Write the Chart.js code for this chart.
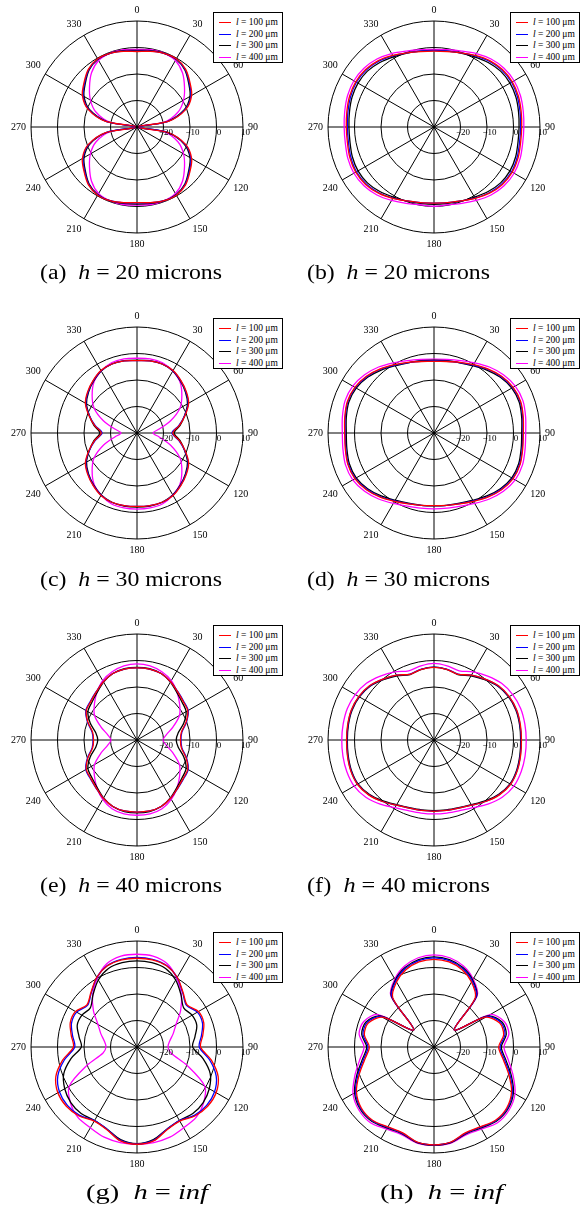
<!DOCTYPE html>
<html><head><meta charset="utf-8">
<script src="https://cdn.jsdelivr.net/npm/chart.js@4"></script>
<style>
html,body{margin:0;padding:0;background:#fff;}
#page{position:relative;width:580px;height:1218px;overflow:hidden;background:#fff;}
canvas.pc{position:absolute;}
.leg{position:absolute;width:68px;height:49px;border:1.4px solid #000;background:#fff;font-family:'Liberation Serif',serif;font-size:9.5px;color:#000;}
.leg .row{position:absolute;left:0;width:68px;height:12px;}
.leg .ln{position:absolute;left:5px;top:6px;width:12px;height:0;border-top-width:1.5px;border-top-style:solid;}
.leg .tx{position:absolute;left:22px;top:0;line-height:12px;white-space:nowrap;}
.cap{position:absolute;font-family:'Liberation Serif',serif;font-size:20px;line-height:20px;white-space:nowrap;transform-origin:0 50%;color:#000;}
</style></head><body><div id="page"></div>
<script>
// ---- angular categories (degrees, clockwise from top) ----
const angles = [0,10,20,30,40,50,60,70,80,90,100,110,120,130,140,150,160,170,180,190,200,210,220,230,240,250,260,270,280,290,300,310,320,330,340,350];
const tickValues = [-20,-10,0,10];
const tickLabels = ['\u221220','\u221210','0','10'];
const seriesNames = ['100','200','300','400'];
const seriesColors = ['#ff0000','#0000ff','#000000','#ff00ff'];

// ---- (a) h = 20 microns ----
const A_red  = [-1.5,-1.0,-0.4,-0.3,-1.5,-3.9,-6.2,-10.3,-18,-30,-18,-10.3,-6.2,-3.9,-1.5,-0.3,-0.4,-1.0,-1.5,-1.0,-0.4,-0.3,-1.5,-3.9,-6.2,-10.3,-18,-30,-18,-10.3,-6.2,-3.9,-1.5,-0.3,-0.4,-1.0];
const A_blue = [-1.4,-0.9,-0.4,-0.4,-1.7,-4.2,-6.5,-10.6,-18.3,-30,-18.3,-10.6,-6.5,-4.2,-1.7,-0.4,-0.4,-0.9,-1.4,-0.9,-0.4,-0.4,-1.7,-4.2,-6.5,-10.6,-18.3,-30,-18.3,-10.6,-6.5,-4.2,-1.7,-0.4,-0.4,-0.9];
const A_black= [-1.1,-0.7,-0.3,-0.5,-1.9,-4.5,-6.9,-11.0,-18.6,-30,-18.6,-11.0,-6.9,-4.5,-1.9,-0.5,-0.3,-0.7,-0.9,-0.7,-0.3,-0.5,-1.9,-4.5,-6.9,-11.0,-18.6,-30,-18.6,-11.0,-6.9,-4.5,-1.9,-0.5,-0.3,-0.7];
const A_mag  = [-0.7,-0.4,-0.3,-1.0,-3.3,-6.6,-9.7,-13.5,-19.5,-30,-19.5,-13.5,-9.7,-6.6,-3.3,-1.0,-0.3,-0.3,-0.5,-0.3,-0.3,-1.0,-3.3,-6.6,-9.7,-13.5,-19.5,-30,-19.5,-13.5,-9.7,-6.6,-3.3,-1.0,-0.3,-0.4];

// ---- (b) h = 20 microns ----
const B_red  = [-1.4,-1.1,-0.2,1.2,2.7,3.7,4.1,3.9,3.4,3.1,3.2,3.8,4.1,3.7,2.6,1.1,-0.3,-1.0,-1.3,-1.0,-0.3,1.1,2.6,3.7,4.1,3.8,3.2,3.1,3.4,3.9,4.1,3.7,2.7,1.2,-0.2,-1.1];
const B_blue = [-1.2,-0.9,-0.2,1.0,2.4,3.4,3.8,3.5,3.0,2.7,2.8,3.4,3.8,3.4,2.4,1.0,-0.3,-1.0,-1.3,-1.0,-0.3,1.0,2.4,3.4,3.8,3.4,2.8,2.7,3.0,3.5,3.8,3.4,2.4,1.0,-0.2,-0.9];
const B_black= [-1.1,-0.9,-0.3,0.6,1.8,2.8,3.1,2.9,2.4,2.1,2.2,2.8,3.1,2.8,1.8,0.6,-0.2,-0.7,-0.8,-0.7,-0.2,0.6,1.8,2.8,3.1,2.8,2.2,2.1,2.4,2.9,3.1,2.8,1.8,0.6,-0.3,-0.9];
const B_mag  = [-0.7,-0.4,0.5,2.0,3.5,4.5,4.9,4.7,4.2,3.9,4.0,4.6,4.9,4.5,3.5,2.0,0.7,-0.2,-0.1,-0.2,0.7,2.0,3.5,4.5,4.9,4.6,4.0,3.9,4.2,4.7,4.9,4.5,3.5,2.0,0.5,-0.4];

// ---- (c) h = 30 microns ----
const C_red  = [-2.7,-2.4,-2.3,-2.8,-4.2,-5.7,-7.5,-10.7,-13.8,-16.5,-13.8,-10.7,-7.5,-5.7,-4.2,-2.8,-2.2,-2.2,-2.3,-2.2,-2.2,-2.8,-4.2,-5.7,-7.5,-10.7,-13.8,-16.5,-13.8,-10.7,-7.5,-5.7,-4.2,-2.8,-2.3,-2.4];
const C_blue = [-2.7,-2.4,-2.3,-2.9,-4.3,-5.9,-7.7,-10.9,-14.0,-16.8,-14.0,-10.9,-7.7,-5.9,-4.3,-2.9,-2.2,-2.2,-2.3,-2.2,-2.2,-2.9,-4.3,-5.9,-7.7,-10.9,-14.0,-16.8,-14.0,-10.9,-7.7,-5.9,-4.3,-2.9,-2.3,-2.4];
const C_black= [-2.5,-2.3,-2.3,-3.0,-4.5,-6.1,-8.0,-10.9,-13.5,-16.0,-13.5,-10.9,-8.0,-6.1,-4.5,-3.0,-2.2,-2.0,-2.0,-2.0,-2.2,-3.0,-4.5,-6.1,-8.0,-10.9,-13.5,-16.0,-13.5,-10.9,-8.0,-6.1,-4.5,-3.0,-2.3,-2.3];
const C_mag  = [-1.8,-1.6,-1.8,-3.0,-4.8,-7.9,-11.3,-16.5,-21.5,-24,-21.5,-16.5,-11.3,-7.9,-4.8,-3.0,-1.6,-1.3,-1.3,-1.3,-1.6,-3.0,-4.8,-7.9,-11.3,-16.5,-21.5,-24,-21.5,-16.5,-11.3,-7.9,-4.8,-3.0,-1.8,-1.6];

// ---- (d) h = 30 microns ----
const D_red  = [-3.0,-2.6,-1.6,-0.2,1.6,3.3,4.5,4.8,4.2,3.7,4.0,4.6,4.5,3.3,1.6,-0.2,-1.5,-2.3,-2.6,-2.3,-1.5,-0.2,1.6,3.3,4.5,4.6,4.0,3.7,4.2,4.8,4.5,3.3,1.6,-0.2,-1.6,-2.6];
const D_blue = [-2.8,-2.5,-1.7,-0.4,1.4,3.1,4.3,4.6,4.0,3.5,3.8,4.4,4.3,3.1,1.4,-0.4,-1.6,-2.3,-2.6,-2.3,-1.6,-0.4,1.4,3.1,4.3,4.4,3.8,3.5,4.0,4.6,4.3,3.1,1.4,-0.4,-1.7,-2.5];
const D_black= [-2.5,-2.3,-1.8,-0.7,1.0,2.7,3.9,4.2,3.6,3.1,3.4,4.0,3.9,2.7,1.0,-0.7,-1.8,-2.3,-2.5,-2.3,-1.8,-0.7,1.0,2.7,3.9,4.0,3.4,3.1,3.6,4.2,3.9,2.7,1.0,-0.7,-1.8,-2.3];
const D_mag  = [-2.1,-1.8,-0.9,0.6,2.5,4.2,5.4,5.7,5.1,4.6,4.9,5.5,5.4,4.2,2.5,0.7,-0.6,-1.2,-1.4,-1.2,-0.6,0.7,2.5,4.2,5.4,5.5,4.9,4.6,5.1,5.7,5.4,4.2,2.5,0.6,-0.9,-1.8];

// ---- (e) h = 40 microns ----
const E_red  = [-2.8,-2.8,-3.3,-4.6,-6.2,-7.3,-7.9,-10.3,-13.0,-13.6,-13.0,-10.3,-7.9,-7.3,-6.2,-4.6,-3.3,-2.8,-2.8,-2.8,-3.3,-4.6,-6.2,-7.3,-7.9,-10.3,-13.0,-13.6,-13.0,-10.3,-7.9,-7.3,-6.2,-4.6,-3.3,-2.8];
const E_blue = [-2.8,-2.8,-3.3,-4.6,-6.1,-7.1,-7.7,-10.1,-12.8,-13.4,-12.8,-10.1,-7.7,-7.1,-6.1,-4.6,-3.3,-2.8,-2.8,-2.8,-3.3,-4.6,-6.1,-7.1,-7.7,-10.1,-12.8,-13.4,-12.8,-10.1,-7.7,-7.1,-6.1,-4.6,-3.3,-2.8];
const E_black= [-2.6,-2.7,-3.3,-4.8,-6.6,-7.8,-8.6,-11.2,-14.2,-15.2,-14.2,-11.2,-8.6,-7.8,-6.6,-4.8,-3.3,-2.6,-2.5,-2.6,-3.3,-4.8,-6.6,-7.8,-8.6,-11.2,-14.2,-15.2,-14.2,-11.2,-8.6,-7.8,-6.6,-4.8,-3.3,-2.7];
const E_mag  = [-1.3,-1.6,-2.6,-4.1,-6.5,-9.0,-11.5,-15.5,-18.8,-20.2,-18.8,-15.5,-11.5,-9.0,-6.5,-4.1,-2.4,-1.7,-1.6,-1.7,-2.4,-4.1,-6.5,-9.0,-11.5,-15.5,-18.8,-20.2,-18.8,-15.5,-11.5,-9.0,-6.5,-4.1,-2.6,-1.6];

// ---- (f) h = 40 microns ----
const F_red  = [-2.6,-2.9,-3.6,-1.7,0.0,1.8,2.8,3.2,3.1,3.0,3.2,3.5,3.4,2.2,0.3,-1.6,-2.6,-3.0,-3.1,-3.0,-2.6,-1.6,0.3,2.2,3.4,3.5,3.2,3.0,3.1,3.2,2.8,1.8,0.0,-1.7,-3.6,-2.9];
const F_blue = [-2.5,-2.8,-3.5,-1.7,0.0,1.7,2.7,3.1,3.0,2.9,3.1,3.4,3.3,2.1,0.3,-1.6,-2.6,-3.0,-3.1,-3.0,-2.6,-1.6,0.3,2.1,3.3,3.4,3.1,2.9,3.0,3.1,2.7,1.7,0.0,-1.7,-3.5,-2.8];
const F_black= [-2.5,-2.9,-3.7,-2.0,-0.3,1.5,2.5,2.9,2.8,2.7,2.9,3.2,3.1,1.9,0.0,-1.8,-2.8,-3.2,-3.3,-3.2,-2.8,-1.8,0.0,1.9,3.1,3.2,2.9,2.7,2.8,2.9,2.5,1.5,-0.3,-2.0,-3.7,-2.9];
const F_mag  = [-1.1,-1.6,-2.2,-0.3,1.5,3.3,4.3,4.8,4.8,4.8,4.9,5.0,4.8,3.6,1.6,-0.5,-1.6,-2.0,-2.1,-2.0,-1.6,-0.5,1.6,3.6,4.8,5.0,4.9,4.8,4.8,4.8,4.3,3.3,1.5,-0.3,-2.2,-1.6];

// ---- (g) h = inf ----
const G_red  = [3.5,3.4,2.6,0.4,-3.0,-5.3,-3.2,-3.2,-4.8,-6.0,-1.5,2.6,4.5,4.8,4.0,2.3,3.2,6.0,6.7,6.0,3.2,2.3,4.0,4.8,4.5,2.6,-1.5,-6.0,-4.8,-3.2,-3.2,-5.3,-3.0,0.4,2.6,3.4];
const G_blue = [3.8,3.6,2.7,0.3,-3.2,-5.6,-3.7,-3.7,-5.3,-6.5,-2.2,1.8,3.8,4.3,3.7,2.1,3.0,5.8,6.6,5.8,3.0,2.1,3.7,4.3,3.8,1.8,-2.2,-6.5,-5.3,-3.7,-3.7,-5.6,-3.2,0.3,2.7,3.6];
const G_black= [2.5,2.3,1.5,-0.8,-4.2,-7.0,-6.0,-6.0,-7.8,-9.0,-4.7,-0.6,1.5,2.6,2.8,2.0,3.0,5.5,6.5,5.5,3.0,2.0,2.8,2.6,1.5,-0.6,-4.7,-9.0,-7.8,-6.0,-6.0,-7.0,-4.2,-0.8,1.5,2.3];
const G_mag  = [5.0,4.8,3.4,0.0,-4.0,-8.5,-13.0,-15.5,-17.5,-18.3,-17.0,-10.0,-0.5,2.8,4.7,5.2,6.2,6.6,6.7,6.6,6.2,5.2,4.7,2.8,-0.5,-10.0,-17.0,-18.3,-17.5,-15.5,-13.0,-8.5,-4.0,0.0,3.4,4.8];

// ---- (h) h = inf ----
const H_red  = [3.1,2.6,1.0,-1.7,-5.8,-20,-7.5,-3.6,-3.3,-5.6,-3.5,0.0,3.8,5.8,6.1,4.8,4.5,6.4,6.9,6.4,4.5,4.8,6.1,5.8,3.8,0.0,-3.5,-5.6,-3.3,-3.6,-7.5,-20,-5.8,-1.7,1.0,2.6];
const H_blue = [3.6,3.1,1.5,-1.2,-5.3,-20,-7.0,-3.1,-2.8,-5.1,-3.0,0.5,4.2,6.1,6.3,5.0,4.7,6.5,6.9,6.5,4.7,5.0,6.3,6.1,4.2,0.5,-3.0,-5.1,-2.8,-3.1,-7.0,-20,-5.3,-1.2,1.5,3.1];
const H_black= [4.0,3.5,1.9,-0.8,-5.0,-20,-6.5,-2.6,-2.3,-4.6,-2.5,1.0,4.6,6.4,6.6,5.3,4.9,6.6,7.0,6.6,4.9,5.3,6.6,6.4,4.6,1.0,-2.5,-4.6,-2.3,-2.6,-6.5,-20,-5.0,-0.8,1.9,3.5];
const H_mag  = [4.8,4.2,2.5,-0.4,-4.6,-20,-5.5,-1.8,-1.3,-3.6,-1.5,1.8,5.3,7.0,7.3,5.8,5.3,6.8,7.1,6.8,5.3,5.8,7.3,7.0,5.3,1.8,-1.5,-3.6,-1.3,-1.8,-5.5,-20,-4.6,-0.4,2.5,4.2];

// ---- panel layout ----
const panels = [
  {cx:137, cy:127,  data:[A_red,A_blue,A_black,A_mag], cap:'(a)&ensp;<i>h</i> = 20 microns', capX:40,  capW:182},
  {cx:434, cy:127,  data:[B_red,B_blue,B_black,B_mag], cap:'(b)&ensp;<i>h</i> = 20 microns', capX:307, capW:183},
  {cx:137, cy:433,  data:[C_red,C_blue,C_black,C_mag], cap:'(c)&ensp;<i>h</i> = 30 microns', capX:40,  capW:182},
  {cx:434, cy:433,  data:[D_red,D_blue,D_black,D_mag], cap:'(d)&ensp;<i>h</i> = 30 microns', capX:307, capW:183},
  {cx:137, cy:740,  data:[E_red,E_blue,E_black,E_mag], cap:'(e)&ensp;<i>h</i> = 40 microns', capX:40,  capW:182},
  {cx:434, cy:740,  data:[F_red,F_blue,F_black,F_mag], cap:'(f)&ensp;<i>h</i> = 40 microns', capX:307, capW:183},
  {cx:137, cy:1047, data:[G_red,G_blue,G_black,G_mag], cap:'(g)&ensp;<i>h</i> = <i>inf</i>', capX:86,  capW:122},
  {cx:434, cy:1047, data:[H_red,H_blue,H_black,H_mag], cap:'(h)&ensp;<i>h</i> = <i>inf</i>', capX:380, capW:123}
];
const capCenterY = [272, 272, 578.5, 578.5, 885, 885, 1191.5, 1191.5];
const TARGET_R = 106;
const idx90 = angles.indexOf(90);

const tickPlugin = {
  id: 'rTicks',
  afterDatasetsDraw(chart) {
    const s = chart.scales.r, ctx = chart.ctx;
    ctx.save();
    ctx.font = '9px "Liberation Serif"';
    ctx.fillStyle = '#000';
    ctx.textAlign = 'center';
    ctx.textBaseline = 'middle';
    tickValues.forEach((v, i) => {
      const p = s.getPointPositionForValue(idx90, v);
      ctx.fillText(tickLabels[i], p.x + 2.5, p.y + 6);
    });
    // small hub where the spokes meet
    ctx.beginPath();
    ctx.arc(s.xCenter, s.yCenter, 1.6, 0, Math.PI * 2);
    ctx.fill();
    ctx.restore();
  }
};

const page = document.getElementById('page');

panels.forEach((p, k) => {
  const cv = document.createElement('canvas');
  cv.className = 'pc';
  cv.width = 270; cv.height = 270;
  cv.style.width = '270px'; cv.style.height = '270px';
  cv.style.left = (p.cx - 137) + 'px';
  cv.style.top = (p.cy - 135) + 'px';
  page.appendChild(cv);

  const chart = new Chart(cv.getContext('2d'), {
    type: 'radar',
    data: {
      labels: angles,
      datasets: p.data.map((d, j) => ({
        label: 'l = ' + seriesNames[j] + ' \u03bcm',
        data: d,
        borderColor: seriesColors[j],
        backgroundColor: 'transparent',
        borderWidth: 1.3,
        fill: false,
        pointRadius: 0,
        tension: 0.3
      }))
    },
    options: {
      responsive: false,
      animation: false,
      devicePixelRatio: 1,
      layout: { padding: 9 },
      plugins: { legend: { display: false }, tooltip: { enabled: false } },
      scales: {
        r: {
          min: -30, max: 10, beginAtZero: false,
          ticks: { display: false, stepSize: 10 },
          grid: { circular: true, color: '#000', lineWidth: 1 },
          angleLines: { display: true, color: '#000', lineWidth: (c) => (angles[c.index] % 30 === 0 ? 1 : 0) },
          pointLabels: {
            display: true, padding: 5, color: '#000',
            font: { family: 'Liberation Serif', size: 10 },
            callback: (lbl) => (lbl % 30 === 0 ? String(lbl) : '')
          }
        }
      }
    },
    plugins: [tickPlugin]
  });

  // fit radius and center to the reference geometry
  let s = chart.scales.r;
  const dr = s.drawingArea - TARGET_R;
  if (dr !== 0) {
    chart.options.layout.padding = 9 + dr;
    chart.update();
    s = chart.scales.r;
  }
  cv.style.left = (p.cx - s.xCenter) + 'px';
  cv.style.top = (p.cy - s.yCenter) + 'px';

  // legend box
  const lg = document.createElement('div');
  lg.className = 'leg';
  lg.style.left = (p.cx + 76) + 'px';
  lg.style.top = (p.cy - 115) + 'px';
  seriesNames.forEach((n, j) => {
    const row = document.createElement('div');
    row.className = 'row';
    row.style.top = [3, 15, 26, 38][j] + 'px';
    row.innerHTML = '<div class="ln" style="border-top-color:' + seriesColors[j] + '"></div><span class="tx"><i>l</i> = ' + n + ' \u03bcm</span>';
    lg.appendChild(row);
  });
  page.appendChild(lg);

  // caption
  const cp = document.createElement('div');
  cp.className = 'cap';
  cp.innerHTML = p.cap;
  cp.style.left = p.capX + 'px';
  cp.style.top = (capCenterY[k] - 10) + 'px';
  page.appendChild(cp);
  const w = cp.getBoundingClientRect().width;
  if (w > 0) cp.style.transform = 'scaleX(' + (p.capW / w).toFixed(3) + ')';
});
</script>
</body></html>
